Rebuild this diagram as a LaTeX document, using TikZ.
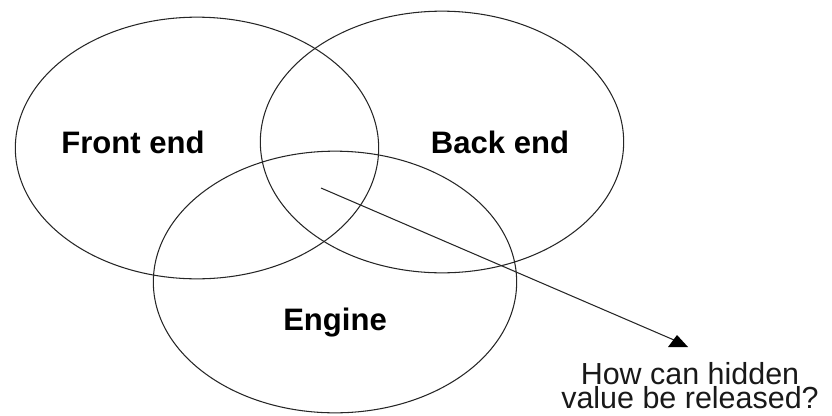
\documentclass[tikz,border=0pt]{standalone}
\usepackage{fontspec}
\setmainfont{Liberation Sans}
\usepackage{tikz}
\usetikzlibrary{shapes.geometric, arrows.meta, positioning}

\begin{document}
\begin{tikzpicture}[
    x=0.03cm, y=-0.03cm,
    area/.style={ellipse, draw=black!85, line width=0.9pt, minimum width=10.9cm, minimum height=7.85cm, inner sep=0pt},
    label/.style={font=\fontsize{26.5}{30}\selectfont\bfseries, text=black, inner sep=0pt},
    question/.style={align=center, font=\fontsize{26}{20.2}\selectfont, text=black!90, inner sep=0pt},
    arrow/.style={draw=black!85, line width=0.9pt},
]
    \useasboundingbox (0,0) rectangle (832,415);

    % the three areas
    \node[area] (front) at (197,148) {};
    \node[area] (back) at (442,142) {};
    \node[area] (engine) at (335,282) {};

    \node[label] (frontlbl) at (133,142) {Front end};
    \node[label] (backlbl) at (500,142) {Back end};
    \node[label] (enginelbl) at (335,323) {Engine};

    % hidden value
    \coordinate (core) at (321,188);
    \coordinate (tip) at (674,340);
    \node[question, anchor=base] (ask) at (690,408) {How can hidden\\value be released?};

    \draw[arrow] (core) -- (tip);
    \fill[black] ([shift={(3,-5)}]tip) -- ([shift={(-6,7)}]tip) -- ([shift={(14,7)}]tip) -- cycle;
\end{tikzpicture}
\end{document}
